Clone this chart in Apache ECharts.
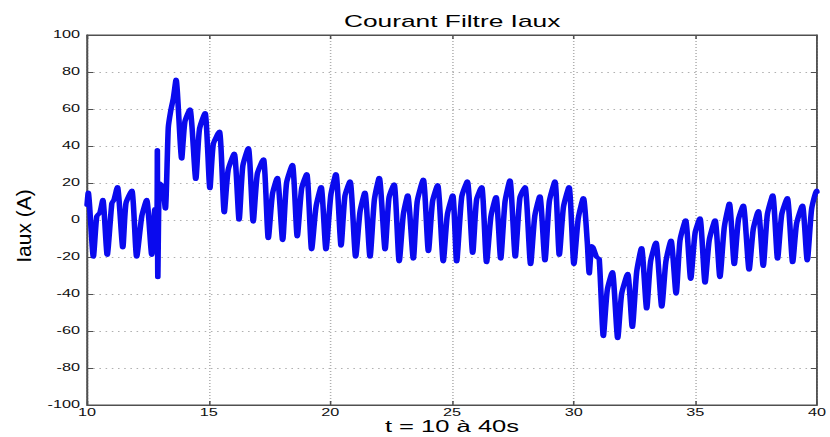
<!DOCTYPE html>
<html>
<head>
<meta charset="utf-8">
<script src="https://cdn.jsdelivr.net/npm/echarts@6/dist/echarts.min.js"></script>
<style>
html,body{margin:0;padding:0;background:#fff;overflow:hidden;width:830px;height:437px;}
#c{width:536px;height:437px;transform:scaleX(1.5485);transform-origin:0 0;}
</style>
</head>
<body>
<div id="c"></div>
<script>
var titleText = "Courant Filtre Iaux";
var xName = "t = 10 à 40s";
var yName = "Iaux (A)";
var xTicks = [10, 15, 20, 25, 30, 35, 40];
var yTicks = [-100, -80, -60, -40, -20, 0, 20, 40, 60, 80, 100];

var times = [
10.00,10.05,10.26,10.40,10.53,10.65,10.83,11.02,11.11,11.25,11.47,11.60,11.84,12.04,12.25,12.45,12.66,12.79,12.87,12.89,12.91,12.98,13.11,13.22,13.34,13.44,13.55,13.66,
13.89,14.02,14.23,14.47,14.62,14.85,15.05,15.19,15.44,15.64,15.80,16.05,16.25,16.40,16.63,16.83,17.00,17.25,17.45,17.62,17.82,
18.04,18.20,18.44,18.64,18.82,19.03,19.23,19.41,19.62,19.82,20.02,20.23,20.44,20.60,20.81,21.04,21.22,21.42,21.63,21.81,22.01,
22.25,22.41,22.62,22.83,23.00,23.18,23.41,23.57,23.82,24.03,24.20,24.41,24.64,24.81,25.03,25.19,25.40,25.63,25.85,26.01,26.22,
26.42,26.60,26.81,27.00,27.18,27.38,27.60,27.79,28.00,28.23,28.40,28.61,28.82,29.00,29.23,29.41,29.58,29.81,30.01,30.19,30.40,
30.56,30.64,30.74,30.80,30.94,31.05,31.22,31.38,31.59,31.81,31.97,32.22,32.41,32.59,32.79,33.00,33.16,33.38,33.62,33.79,34.00,
34.21,34.37,34.60,34.81,34.99,35.19,35.40,35.57,35.81,36.01,36.19,36.40,36.60,36.77,36.97,37.21,37.38,37.59,37.79,37.96,38.18,
38.38,38.55,38.78,39.00,39.16,39.40,39.60,39.78,39.99,40.00
];
var current = [
8,15,-20,2,4,11,-19,9,11,18,-15,9,16,-20,2,11,-19,6,2,38,-31,20,18,6,50,59,66,76,
33,53,60,22,49,58,17,41,48,4,27,36,0,29,39,-1,25,33,-10,14,23,
-11,20,30,-9,17,25,-16,7,18,-16,13.5,25,-14,13,21,-20,4.5,15,-20,11,23,
-16,12,19.5,-22.5,3,13.5,-21,10,22,-17,10,19,-22.5,3,13.5,-22.5,12.6,21,-18,11,18,
-23,2,12.6,-21,10,21.6,-20,12,18,-24,2,13,-22,10,21,-19,7,18,-24,1,12,
-12,-29,-14,-15,-20,-21,-63,-38,-28,-64,-40,-29,-58,-28,-15,-48,-22.5,-12,-47,-22.5,-11,
-40,-11,0,-32,-7,1,-34,-11,0,-31,-4,9,-24,0,8,-27,-5,5,-25,3,13.5,
-21,3,12,-23,-2,8,-22,6,16,15
];

var data = [];
for (var i = 0; i < times.length; i++) data.push([times[i], current[i]]);

var SX = 1.5485;
var font = 'Arial, "Liberation Sans", sans-serif';
var axisCol = '#505050';
var gridCol = '#b0b0b0';
var chart = echarts.init(document.getElementById('c'), null, {renderer: 'svg', width: 536, height: 437});
chart.setOption({
  animation: false,
  backgroundColor: '#fff',
  title: {
    text: titleText, left: 287, top: 8, textAlign: 'center',
    textStyle: {fontFamily: font, fontSize: 17, fontWeight: 'normal', color: '#000'}
  },
  graphic: [{
    type: 'text', x: 14.9, y: 226, rotation: Math.PI / 2, scaleY: 1 / SX,
    style: {text: yName, fontFamily: font, fontSize: 21, fill: '#000', align: 'center', verticalAlign: 'middle'}
  }],
  grid: {left: 56.2, right: 8.4, top: 35, bottom: 32, outerBoundsMode: 'none', containLabel: false,
    show: true, borderColor: axisCol, borderWidth: 1, backgroundColor: '#fff'},
  xAxis: [{
    type: 'value', min: xTicks[0], max: xTicks[xTicks.length - 1], interval: 5,
    name: xName, nameLocation: 'middle', nameGap: 14, nameMoveOverlap: false,
    nameTextStyle: {fontFamily: font, fontSize: 16.5, color: '#000', verticalAlign: 'top', lineHeight: 16},
    axisLine: {show: true, onZero: false, lineStyle: {color: axisCol}},
    axisTick: {show: true, inside: true, length: 4, lineStyle: {color: axisCol}},
    axisLabel: {fontFamily: font, fontSize: 10.5, color: '#111', margin: 2},
    splitLine: {show: true, lineStyle: {color: gridCol, type: [1, 2], width: 1}}
  }, {
    type: 'value', position: 'top', min: 10, max: 40, interval: 5,
    axisLine: {show: true, onZero: false, lineStyle: {color: axisCol}},
    axisTick: {show: true, inside: true, length: 4, lineStyle: {color: axisCol}},
    axisLabel: {show: false}, splitLine: {show: false}
  }],
  yAxis: [{
    type: 'value', min: yTicks[0], max: yTicks[yTicks.length - 1], interval: 20,
    axisLine: {show: true, onZero: false, lineStyle: {color: axisCol}},
    axisTick: {show: true, inside: true, length: 4, lineStyle: {color: axisCol}},
    axisLabel: {fontFamily: font, fontSize: 10.5, color: '#111', margin: 4.5},
    splitLine: {show: true, lineStyle: {color: gridCol, type: [1, 3], width: 1}}
  }, {
    type: 'value', position: 'right', min: -100, max: 100, interval: 20,
    axisLine: {show: true, onZero: false, lineStyle: {color: axisCol}},
    axisTick: {show: true, inside: true, length: 4, lineStyle: {color: axisCol}},
    axisLabel: {show: false}, splitLine: {show: false}
  }],
  series: [{
    type: 'line', data: data, showSymbol: false, symbol: 'none',
    lineStyle: {color: '#0a0aee', width: 3.6, join: 'round', cap: 'round'},
    smooth: 0.2, clip: true
  }]
});
</script>
</body>
</html>
